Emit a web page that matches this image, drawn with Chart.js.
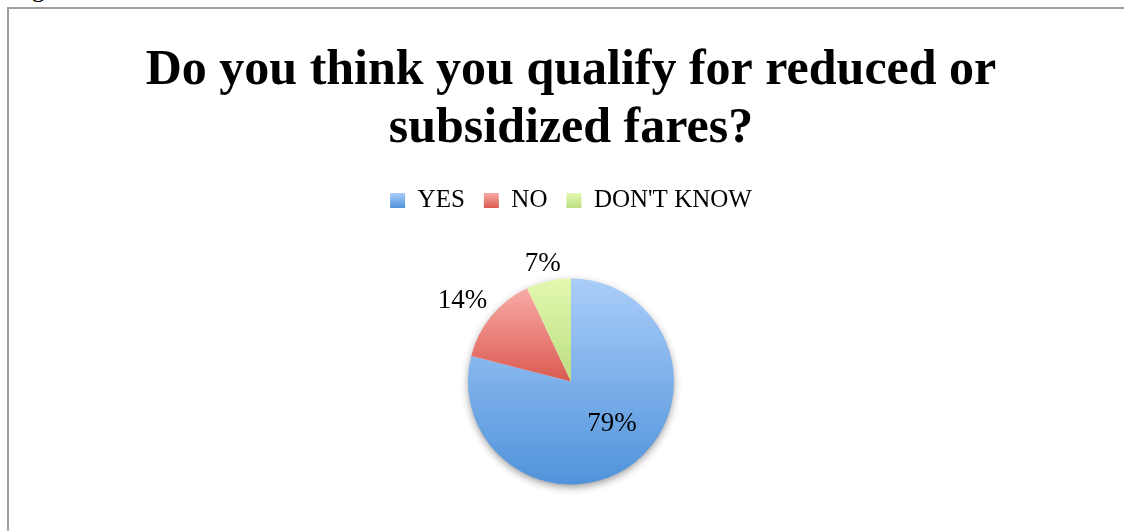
<!DOCTYPE html>
<html>
<head>
<meta charset="utf-8">
<title>Reduced fares survey</title>
<script src="https://cdn.jsdelivr.net/npm/chart.js@4.4.0/dist/chart.umd.min.js"></script>
<style>
  html, body { margin: 0; padding: 0; background: #fff; }
  body { width: 1124px; height: 531px; position: relative; overflow: hidden; font-family: "Liberation Serif", serif; }
  #caption { position: absolute; left: 10px; top: -26px; font-size: 26px; color: #000; }
  #frame { position: absolute; left: 7px; top: 7px; width: 1300px; height: 700px;
           border-left: 2px solid #a0a0a0; border-top: 2px solid #a0a0a0; }
  /* canvas runs a little past the bottom edge so the pie sits low */
  #wrap { position: absolute; left: 0; top: 0; width: 1124px; height: 560px; }
</style>
</head>
<body>
<div id="caption">Figure 5</div>
<div id="frame"></div>
<div id="wrap"><canvas id="faresChart"></canvas></div>

<script>
// survey answers, in percent
const categories = ['YES', 'NO', "DON'T KNOW"];
const shares     = [79, 14, 7];

// each slice is shaded light at its top, darker at its bottom
const topColors    = ['#aacdf9', '#f9aba7', '#e3f8b0'];
const bottomColors = ['#5093db', '#da5a50', '#bcde80'];

const PIE_RADIUS = 103;
const SERIF = '"Liberation Serif", "Times New Roman", serif';

// ── Vertical gradient spanning one slice's own height ─────────
function sliceFill(c) {
    const chart = c.chart;
    const area  = chart.chartArea;
    const i     = c.dataIndex;
    if (!area || i === undefined) return bottomColors[i || 0];

    const cy    = (area.top + area.bottom) / 2;
    const total = shares.reduce((a, b) => a + b, 0);
    let start = -Math.PI / 2;
    for (let k = 0; k < i; k++) start += shares[k] / total * Math.PI * 2;
    const end = start + shares[i] / total * Math.PI * 2;

    const ys = [cy, cy + PIE_RADIUS * Math.sin(start), cy + PIE_RADIUS * Math.sin(end)];
    [-Math.PI / 2, Math.PI / 2, Math.PI * 1.5, Math.PI * 2.5].forEach(a => {
        if (a > start && a < end) ys.push(cy + PIE_RADIUS * Math.sin(a));
    });
    const g = chart.ctx.createLinearGradient(0, Math.min(...ys), 0, Math.max(...ys));
    g.addColorStop(0, topColors[i]);
    g.addColorStop(1, bottomColors[i]);
    return g;
}

// ── Soft drop shadow under the whole pie ──────────────────────
const pieShadow = {
    id: 'pieShadow',
    beforeDatasetsDraw(chart) {
        const arc = chart.getDatasetMeta(0).data[0];
        if (!arc) return;
        const { x, y, outerRadius } = arc.getProps(['x', 'y', 'outerRadius'], true);
        const ctx = chart.ctx;
        ctx.save();
        ctx.shadowColor = 'rgba(0,0,0,0.45)';
        ctx.shadowBlur = 8;
        ctx.shadowOffsetY = 3;
        ctx.beginPath();
        ctx.arc(x, y, outerRadius - 1, 0, Math.PI * 2);
        ctx.fillStyle = '#fff';
        ctx.fill();
        ctx.restore();
    }
};

// ── Legend swatches get the same light-to-dark shading ────────
const legendShade = {
    id: 'legendShade',
    beforeDraw(chart) {
        const legend = chart.legend;
        if (!legend || !legend.legendItems) return;
        const opts = legend.options.labels;
        const fontSize = opts.font.size;
        legend.legendItems.forEach((item, i) => {
            const hit = legend.legendHitBoxes[i];
            if (!hit) return;
            const top = hit.top + Math.max((fontSize - opts.boxHeight) / 2, 0);
            const g = chart.ctx.createLinearGradient(0, top, 0, top + opts.boxHeight);
            g.addColorStop(0, topColors[i]);
            g.addColorStop(1, bottomColors[i]);
            item.fillStyle = g;
        });
    }
};

// ── Percent labels: big slice inside, small ones outside ──────
const sliceLabels = {
    id: 'sliceLabels',
    afterDatasetsDraw(chart) {
        const ctx   = chart.ctx;
        const total = shares.reduce((a, b) => a + b, 0);
        ctx.save();
        ctx.font = '27px ' + SERIF;
        ctx.fillStyle = '#000';
        ctx.textAlign = 'center';
        ctx.textBaseline = 'middle';
        chart.getDatasetMeta(0).data.forEach((arc, i) => {
            const p = arc.getProps(['x', 'y', 'startAngle', 'endAngle', 'outerRadius'], true);
            const mid  = (p.startAngle + p.endAngle) / 2;
            const cos  = Math.cos(mid), sin = Math.sin(mid);
            const text = Math.round(shares[i] / total * 100) + '%';
            let px, py;
            if (shares[i] / total > 0.5) {
                const d = p.outerRadius * 0.57;
                px = p.x + cos * d + 5;
                py = p.y + sin * d - 4;
            } else {
                const hw = ctx.measureText(text).width / 2;
                const d = p.outerRadius + 11 + Math.abs(cos) * hw + Math.abs(sin) * 12;
                px = p.x + cos * d;
                py = p.y + sin * d + 9;
            }
            ctx.fillText(text, px, py);
        });
        ctx.restore();
    }
};

new Chart(document.getElementById('faresChart'), {
    type: 'pie',
    data: {
        labels: categories,
        datasets: [{
            data: shares,
            backgroundColor: sliceFill,
            borderWidth: 0,
            radius: PIE_RADIUS
        }]
    },
    options: {
        responsive: true,
        maintainAspectRatio: false,
        animation: false,
        layout: { padding: { top: 0, left: 18, right: 0, bottom: 20 } },
        plugins: {
            title: {
                display: true,
                text: ['Do you think you qualify for reduced or', 'subsidized fares?'],
                color: '#000',
                font: { family: SERIF, size: 50, weight: 'bold', lineHeight: 1.16 },
                padding: { top: 42, bottom: 11 }
            },
            legend: {
                position: 'top',
                labels: {
                    color: '#000',
                    font: { family: SERIF, size: 25 },
                    boxWidth: 15,
                    boxHeight: 15,
                    padding: 19
                }
            },
            tooltip: { enabled: false }
        }
    },
    plugins: [pieShadow, legendShade, sliceLabels]
});
</script>
</body>
</html>
